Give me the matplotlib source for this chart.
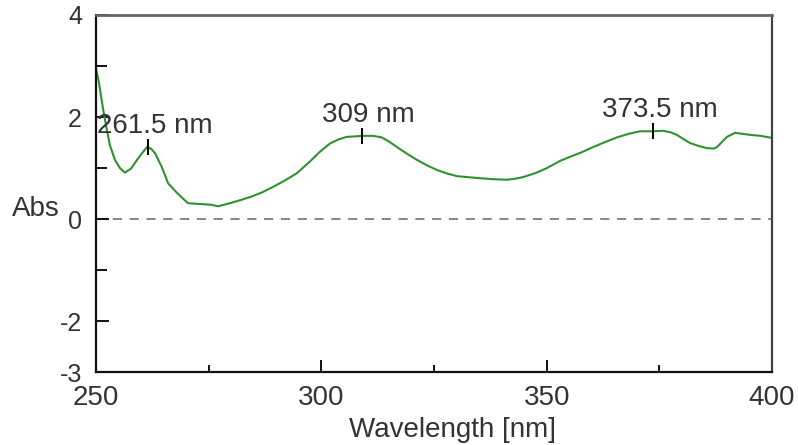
import matplotlib
matplotlib.use("Agg")
import matplotlib.pyplot as plt
import matplotlib.transforms as mtransforms
from matplotlib.ticker import MultipleLocator

plt.rcParams['font.family'] = ['Liberation Sans', 'DejaVu Sans']
plt.rcParams['axes.unicode_minus'] = False

# UV-Vis absorption spectrum
wavelength = [250.0, 250.6, 251.6, 252.4, 253.1, 254.2, 255.3, 256.4, 257.8, 259.1,
              260.3, 261.3, 262.2, 263.1, 264.6, 266.0, 268.0, 270.4, 273.7, 275.5,
              277.1, 279.7, 282.0, 284.2, 286.8, 289.3, 292.0, 294.6, 297.5, 299.7,
              301.9, 303.8, 305.6, 307.5, 309.2, 311.5, 313.4, 315.0, 316.8, 319.0,
              321.2, 323.5, 325.7, 328.0, 330.1, 332.6, 335.2, 338.2, 341.2, 343.0,
              344.7, 347.5, 350.1, 353.0, 355.2, 357.8, 360.3, 363.0, 365.6, 368.2,
              370.7, 372.2, 373.6, 375.8, 377.5, 378.9, 380.3, 381.8, 383.8, 385.6,
              387.0, 387.8, 389.0, 390.0, 391.8, 393.5, 395.1, 397.5, 400.0]
absorbance = [2.95, 2.70, 2.14, 1.75, 1.44, 1.16, 1.00, 0.91, 0.99, 1.16,
              1.30, 1.41, 1.38, 1.29, 1.02, 0.70, 0.51, 0.31, 0.29, 0.28,
              0.25, 0.31, 0.37, 0.43, 0.52, 0.63, 0.76, 0.90, 1.13, 1.32,
              1.48, 1.56, 1.61, 1.62, 1.63, 1.63, 1.60, 1.52, 1.41, 1.28,
              1.16, 1.05, 0.96, 0.89, 0.84, 0.82, 0.80, 0.78, 0.77, 0.79,
              0.82, 0.90, 1.00, 1.14, 1.22, 1.31, 1.41, 1.51, 1.60, 1.67,
              1.72, 1.72, 1.72, 1.73, 1.70, 1.65, 1.57, 1.49, 1.43, 1.39,
              1.38, 1.41, 1.52, 1.61, 1.69, 1.67, 1.65, 1.63, 1.59]

peak_wavelengths = [261.5, 309.0, 373.5]
peak_absorbance = [1.41, 1.63, 1.72]
peak_labels = ["261.5 nm", "309 nm", "373.5 nm"]

x_ticks = [250, 300, 350, 400]
y_ticks = [-3, -2, 0, 2, 4]

fig = plt.figure(figsize=(7.98, 4.45), dpi=100)
ax = fig.add_axes([0.1203, 0.1640, 0.8471, 0.8023])

ax.axhline(0, color='#666666', lw=1.1, ls=(0, (6, 5)), zorder=1)
ax.plot(wavelength, absorbance, color='#2e932e', lw=1.5, zorder=2)

for px, py, lab in zip(peak_wavelengths, peak_absorbance, peak_labels):
    ax.plot([px], [py], marker='|', ms=11, mew=1.4, color='black', zorder=3)
    ax.annotate(lab, (px, py), xytext=(5, 10), textcoords='offset points',
                ha='center', va='baseline', fontsize=20, color='#333333', zorder=4)

ax.set_xlim(250, 400)
ax.set_ylim(-3, 4)

ax.set_xticks(x_ticks)
ax.xaxis.set_minor_locator(MultipleLocator(25))
ax.set_yticks(y_ticks)
ax.yaxis.set_minor_locator(MultipleLocator(1))

ax.tick_params(axis='x', which='major', direction='in', length=9, width=1.4,
               labelsize=20, pad=9, colors='#111111', labelcolor='#333333')
ax.tick_params(axis='x', which='minor', direction='in', length=5, width=1.4,
               colors='#111111')
ax.tick_params(axis='y', which='major', direction='in', length=9, width=1.4,
               labelsize=18, pad=10, colors='#111111', labelcolor='#333333')
ax.tick_params(axis='y', which='minor', direction='in', length=8, width=1.4,
               colors='#111111')

for side in ('left', 'bottom'):
    ax.spines[side].set_color('#111111')
    ax.spines[side].set_linewidth(1.6)
ax.spines['top'].set_color('#666666')
ax.spines['top'].set_linewidth(2.0)
ax.spines['right'].set_color('#444444')
ax.spines['right'].set_linewidth(1.6)

ax.set_xlabel("Wavelength [nm]", fontsize=20, color='#333333', labelpad=2)
ax.xaxis.set_label_coords(0.528, -0.125)

# "Abs" sits horizontally to the left of the zero tick label
abs_trans = mtransforms.blended_transform_factory(ax.transAxes, ax.transData)
ax.text(-0.053, 0.05, "Abs", transform=abs_trans, ha='right', va='baseline',
        fontsize=20, color='#333333')

fig.savefig("out.png", dpi=100, facecolor='white')
